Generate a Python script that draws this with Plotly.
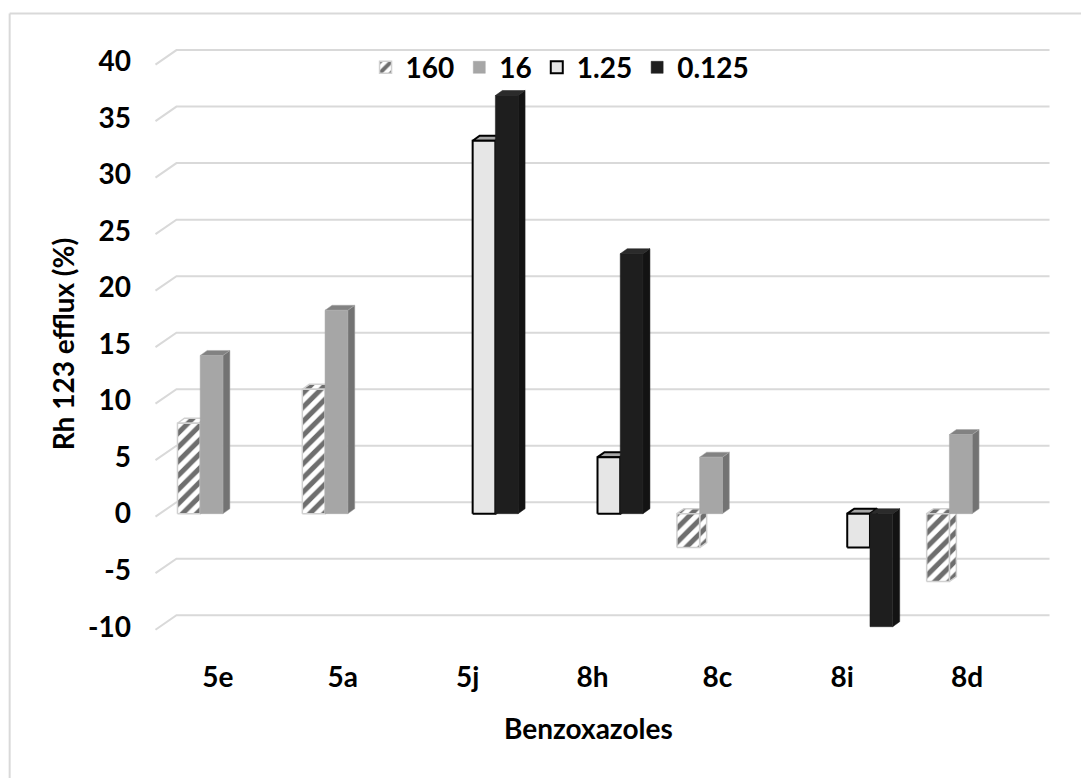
import plotly.graph_objects as go

# ---------------- data ----------------
categories = ["5e", "5a", "5j", "8h", "8c", "8i", "8d"]
series_names = ["160", "16", "1.25", "0.125"]
vals_160 = [8, 11, None, None, -3, None, -6]
vals_16 = [14, 18, None, None, 5, None, 7]
vals_125 = [None, None, 33, 5, None, -3, None]
vals_0125 = [None, None, 37, 23, None, -10, None]
y_ticks = [-10, -5, 0, 5, 10, 15, 20, 25, 30, 35, 40]
y_ticktext = ["-10", "-5", "0", "5", "10", "15", "20", "25", "30", "35", "40"]

# ---------------- geometry / style ----------------
W, H = 1089, 778
OFF = 8  # page body margin of the browser
XR = [-0.6, 6.8]
YR = [-11, 42]
PL, PT = 147.5, 39.4          # target plot-area left/top on the page
pw, ph = 925.0, 598.9
ML, MT = PL - OFF, PT - OFF
MR = W - ML - pw
MB = H - MT - ph
xpx = pw / (XR[1] - XR[0])   # px per x unit
ypx = ph / (YR[1] - YR[0])   # px per y unit

group_w = 0.728
bw = group_w / 4
ddx = 7 / xpx     # bar depth
ddy = 5 / ypx


def px_to_x(px):  # page px -> data x
    return XR[0] + (px - PL) / xpx


def paper_x(px):
    return (px - PL) / pw


def paper_y(py):
    return (PT + ph - py) / ph


FONT = "Lato"
hatch = dict(shape="/", fgcolor="#6e6e6e", bgcolor="white", fgopacity=1, size=10, solidity=0.5)
styles = [
    dict(front="white", pattern=hatch, line="#d0d0d0", lw=1.5, top="white", side="white", face_pattern=True),
    dict(front="#a6a6a6", pattern=None, line="#a6a6a6", lw=0.5, top="#828282", side="#737373", face_pattern=False),
    dict(front="#e6e6e6", pattern=None, line="#000000", lw=2, top="#a6a6a6", side="#8c8c8c", face_pattern=False),
    dict(front="#1e1e1e", pattern=None, line="#1e1e1e", lw=0.5, top="#2b2b2b", side="#131313", face_pattern=False),
]
series_vals = [vals_160, vals_16, vals_125, vals_0125]

fig = go.Figure()

# back-wall gridlines (with the diagonal to the front plane)
gx_front = px_to_x(155)
gx_back = px_to_x(176)
gx_end = px_to_x(1050)
for v in y_ticks:
    yb = v + 11.5 / ypx
    yf = v - 3 / ypx
    fig.add_trace(go.Scatter(x=[gx_front, gx_back, gx_end], y=[yf, yb, yb], mode="lines",
                             line=dict(color="#d9d9d9", width=2), showlegend=False, hoverinfo="skip"))


def poly(xs, ys, color, line, lw, pattern=None):
    kw = dict(x=xs + [xs[0]], y=ys + [ys[0]], mode="lines", fill="toself", fillcolor=color,
              line=dict(color=line, width=lw), showlegend=False, hoverinfo="skip")
    if pattern:
        kw["fillpattern"] = pattern
    fig.add_trace(go.Scatter(**kw))


for i, cat in enumerate(categories):
    for j in range(4):
        v = series_vals[j][i]
        if v is None:
            continue
        st = styles[j]
        a = i - group_w / 2 + j * bw
        b = a + bw
        top = max(v, 0)
        bot = min(v, 0)
        fp = st["pattern"] if st["face_pattern"] else None
        # side face
        poly([b, b, b + ddx, b + ddx], [bot, top, top + ddy, bot + ddy], st["side"], st["line"], st["lw"], fp)
        # top face
        poly([a, a + ddx, b + ddx, b], [top, top + ddy, top + ddy, top], st["top"], st["line"], st["lw"], fp)
        # front face
        poly([a, a, b, b], [bot, top, top, bot], st["front"], st["line"], st["lw"], st["pattern"])

# legend entries
for j, name in enumerate(series_names):
    st = styles[j]
    marker = dict(color=st["front"], line=dict(color=st["line"], width=st["lw"]))
    if st["pattern"]:
        marker["pattern"] = st["pattern"]
    fig.add_trace(go.Bar(x=[None], y=[None], name=name, marker=marker, showlegend=True))

BIG = 28
fig.update_layout(
    width=W, height=H,
    margin=dict(l=ML, r=MR, t=MT, b=MB, autoexpand=False),
    paper_bgcolor="white", plot_bgcolor="white",
    font=dict(family=FONT, size=BIG, color="black"),
    showlegend=True,
    legend=dict(orientation="h", x=paper_x(560), y=paper_y(68), xanchor="center", yanchor="middle",
                bgcolor="rgba(0,0,0,0)", font=dict(family=FONT, size=BIG, color="black", weight="bold"),
                itemwidth=30, traceorder="normal"),
    xaxis=dict(range=XR, tickvals=list(range(len(categories))), ticktext=categories,
               showgrid=False, zeroline=False, showline=False, ticks="", automargin=False,
               tickfont=dict(family=FONT, size=BIG, weight="bold"), ticklabelstandoff=20, ticklabelshift=-5),
    yaxis=dict(range=YR, tickvals=y_ticks, ticktext=y_ticktext, showgrid=False, zeroline=False,
               showline=False, ticks="", automargin=False,
               tickfont=dict(family=FONT, size=BIG, weight="bold"), ticklabelstandoff=16),
    annotations=[
        dict(text="<b>Benzoxazoles</b>", x=paper_x(588), y=paper_y(728), xref="paper", yref="paper",
             showarrow=False, font=dict(family=FONT, size=BIG), xanchor="center", yanchor="middle"),
        dict(text="<b>Rh 123 efflux (%)</b>", x=paper_x(62), y=paper_y(345), xref="paper", yref="paper",
             showarrow=False, textangle=-90, font=dict(family=FONT, size=BIG),
             xanchor="center", yanchor="middle"),
    ],
    shapes=[
        dict(type="line", xref="paper", yref="paper", x0=paper_x(9), x1=paper_x(W + 20),
             y0=paper_y(14), y1=paper_y(14), line=dict(color="#d9d9d9", width=2)),
        dict(type="line", xref="paper", yref="paper", x0=paper_x(9), x1=paper_x(9),
             y0=paper_y(14), y1=paper_y(H + 20), line=dict(color="#d9d9d9", width=2)),
    ],
)

fig.write_html("out.html")
